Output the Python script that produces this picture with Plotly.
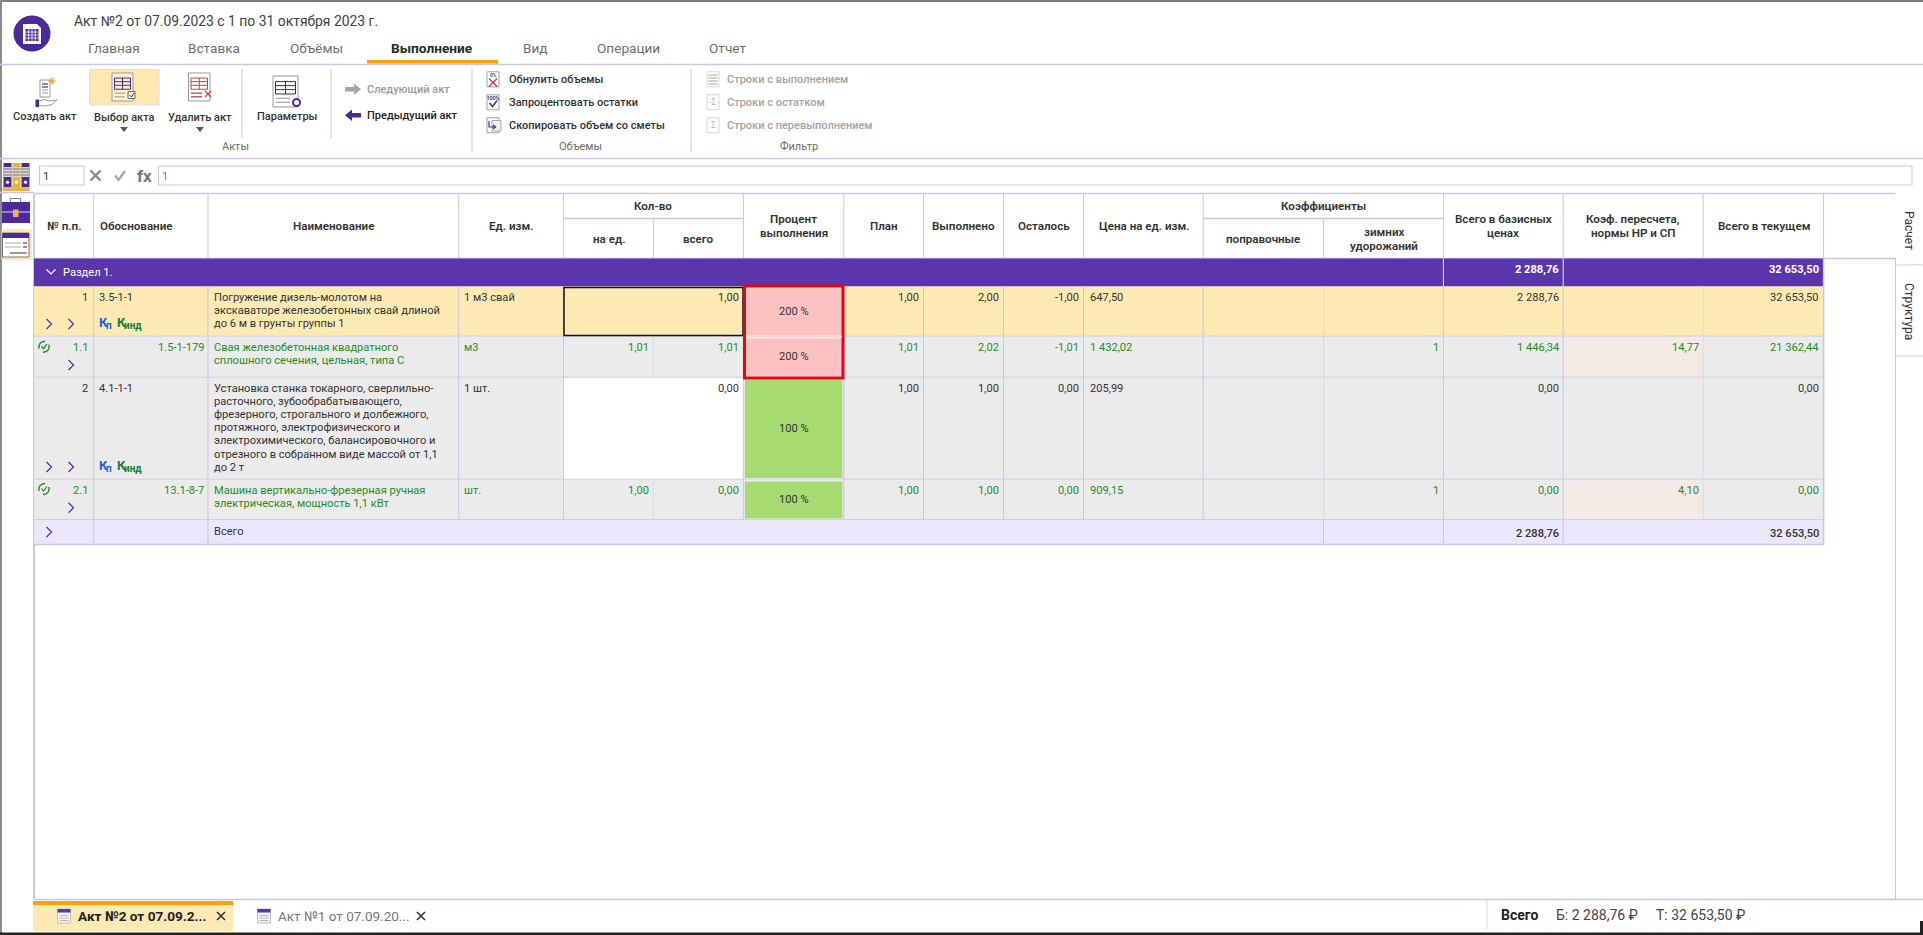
import plotly.graph_objects as go

# data
title = "Акт №2 от 07.09.2023 с 1 по 31 октября 2023 г."
menu_tabs = ["Главная", "Вставка", "Объёмы", "Выполнение", "Вид", "Операции", "Отчет"]
ribbon_big = ["Создать акт", "Выбор акта", "Удалить акт", "Параметры"]
ribbon_nav = ["Следующий акт", "Предыдущий акт"]
ribbon_vol = ["Обнулить объемы", "Запроцентовать остатки", "Скопировать объем со сметы"]
ribbon_flt = ["Строки с выполнением", "Строки с остатком", "Строки с перевыполнением"]
ribbon_groups = ["Акты", "Объемы", "Фильтр"]

row_no = ["1", "1.1", "2", "2.1"]
row_code = ["3.5-1-1", "1.5-1-179", "4.1-1-1", "13.1-8-7"]
row_name = [
    ["Погружение дизель-молотом на", "экскаваторе железобетонных свай длиной", "до 6 м в грунты группы 1"],
    ["Свая железобетонная квадратного", "сплошного сечения, цельная, типа С"],
    ["Установка станка токарного, сверлильно-", "расточного, зубообрабатывающего,",
     "фрезерного, строгального и долбежного,", "протяжного, электрофизического и",
     "электрохимического, балансировочного и", "отрезного в собранном виде массой от 1,1", "до 2 т"],
    ["Машина вертикально-фрезерная ручная", "электрическая, мощность 1,1 кВт"],
]
row_unit = ["1 м3 свай", "м3", "1 шт.", "шт."]
qty_per = ["", "1,01", "", "1,00"]
qty_all = ["1,00", "1,01", "0,00", "0,00"]
pct = ["200 %", "200 %", "100 %", "100 %"]
plan = ["1,00", "1,01", "1,00", "1,00"]
done = ["2,00", "2,02", "1,00", "1,00"]
rest = ["-1,00", "-1,01", "0,00", "0,00"]
price = ["647,50", "1 432,02", "205,99", "909,15"]
winter = ["", "1", "", "1"]
base_total = ["2 288,76", "1 446,34", "0,00", "0,00"]
recount = ["", "14,77", "", "4,10"]
cur_total = ["32 653,50", "21 362,44", "0,00", "0,00"]
section_name = "Раздел 1."
sum_base = "2 288,76"
sum_cur = "32 653,50"

# geometry of the grid, in screen pixels
col = [34, 93.7, 208, 458.7, 563.4, 653.4, 743.4, 843.8, 923.5, 1003.6, 1083.5, 1203.2, 1323.6, 1443.4, 1563.2, 1703.2, 1823.6]
side_x = 1895.5
head_top, head_mid, head_bot = 193.5, 218.5, 258.5
sec_bot = 286.5
row_bot = [336.5, 377.5, 479.5, 520]
tot_bot = 544.5
row_first = [297.3, 347.3, 388.3, 490.3]
pct_y = [311, 356, 428, 499.3]

PURPLE = "#5b35ab"
LINE = "#cdc4ea"
LINE2 = "#dcd7ee"
TXT = "#333333"
GREEN = "#1e8e1e"
GRAYT = "#a3a3a3"
FONT = "Roboto"
BODY = 11.1

shapes = []
notes = []


def rect(x0, y0, x1, y1, fill=None, line=None, w=1):
    shapes.append(dict(type="rect", xref="x", yref="y", x0=x0, y0=y0, x1=x1, y1=y1,
                       fillcolor=fill or "rgba(0,0,0,0)",
                       line=dict(color=line or "rgba(0,0,0,0)", width=w if line else 0)))


def seg(x0, y0, x1, y1, color=LINE, w=1):
    shapes.append(dict(type="line", xref="x", yref="y", x0=x0, y0=y0, x1=x1, y1=y1,
                       line=dict(color=color, width=w)))


def path(d, fill=None, line=None, w=1):
    shapes.append(dict(type="path", xref="x", yref="y", path=d,
                       fillcolor=fill or "rgba(0,0,0,0)",
                       line=dict(color=line or "rgba(0,0,0,0)", width=w if line else 0)))


def txt(x, y, s, size=BODY, color=TXT, anchor="left", weight=400, angle=0):
    if s == "":
        return
    notes.append(dict(x=x, y=y, xref="x", yref="y", text=s, showarrow=False, xanchor=anchor,
                      yanchor="middle", borderpad=0, borderwidth=0, textangle=angle,
                      font=dict(family=FONT, size=size, color=color, weight=weight)))


def chevron(x, y, color=PURPLE):
    path(f"M {x-2.5} {y-5} L {x+2.5} {y} L {x-2.5} {y+5}", line=color, w=1.3)


def cross(x, y, r, color, w=1.4):
    path(f"M {x-r} {y-r} L {x+r} {y+r} M {x+r} {y-r} L {x-r} {y+r}", line=color, w=w)


def refresh(x, y):
    # two green arcs around a tick
    path(f"M {x-5} {y+2} Q {x-6} {y-5} {x+1} {y-5.5} M {x+5} {y-2} Q {x+6} {y+5} {x-1} {y+5.5}", line=GREEN, w=1.4)
    path(f"M {x-2.5} {y-0.5} L {x-0.5} {y+2} L {x+3} {y-2.5}", line=GREEN, w=1.2)


def sheet(x0, y0, x1, y1, color, edge="#9a9a9a", fill="#ffffff"):
    # document icon with a table in it
    rect(x0, y0, x1, y1, fill=fill, line=edge)
    h = y1 - y0
    rect(x0 + 2.5, y0 + h * 0.18, x1 - 2.5, y0 + h * 0.58, line=color)
    seg(x0 + 2.5, y0 + h * 0.31, x1 - 2.5, y0 + h * 0.31, color)
    seg(x0 + 2.5, y0 + h * 0.44, x1 - 2.5, y0 + h * 0.44, color)
    seg((x0 + x1) / 2, y0 + h * 0.18, (x0 + x1) / 2, y0 + h * 0.58, color)
    seg(x0 + 2.5, y0 + h * 0.72, x1 - 8, y0 + h * 0.72, color if color == "#c8423a" else "#a9a9a9", 1.3)
    seg(x0 + 2.5, y0 + h * 0.85, x1 - 8, y0 + h * 0.85, color if color == "#c8423a" else "#a9a9a9", 1.3)


def tabicon(x0, y0):
    rect(x0, y0, x0 + 13, y0 + 14, fill="#f4f4f4", line="#bdbdbd")
    rect(x0, y0, x0 + 13, y0 + 3.5, fill=PURPLE)
    for v in [6.5, 9, 11.5]:
        seg(x0 + 2, y0 + v, x0 + 11, y0 + v, "#b5b5b5")


def mini(x0, y0, color="#a9a9a9"):
    rect(x0, y0, x0 + 12, y0 + 15, fill="#ffffff", line=color)


### window frame and top bars
rect(0, 0, 1923, 935, fill="#ffffff")
seg(0, 1, 1923, 1, "#7d7d7d", 2)
seg(1, 0, 1, 935, "#8a8a8a", 2)
seg(0, 934, 1923, 934, "#222222", 3)
seg(1921.5, 921, 1921.5, 935, "#222222", 3)

shapes.append(dict(type="circle", xref="x", yref="y", x0=14, y0=16, x1=50, y1=51,
                   fillcolor="#4a2a9c", line=dict(color="#3b2185", width=1)))
path("M 23 24 L 37 24 L 41 28 L 41 44 L 23 44 Z", fill="#ffffff")
rect(25.5, 29, 38.5, 41, fill="#4a2a9c")
for v in [28.7, 32, 35.2]:
    seg(v, 29, v, 41, "#ffffff", 0.8)
for v in [32, 35, 38]:
    seg(25.5, v, 38.5, v, "#ffffff", 0.8)

txt(73.5, 20.7, title, 13.9, "#404040")
tab_cx = [114, 213.7, 316, 432, 535, 628, 727]
for i, t in enumerate(menu_tabs):
    if t == "Выполнение":
        txt(tab_cx[i], 48.3, t, 13.7, "#2a2a2a", "center", 700)
    else:
        txt(tab_cx[i], 48.3, t, 13.6, "#6d6d6d", "center")
rect(367, 60, 498, 63.5, fill="#ff9f0a")
seg(0, 64.5, 1923, 64.5, LINE, 1.5)
seg(0, 158.5, 1923, 158.5, LINE, 1.5)
seg(0, 192.5, 34, 192.5, LINE, 1.5)

### ribbon
rect(89.5, 69.5, 159, 105, fill="#fde8b0", line="#e6d6ee")
big_cx = [45, 124, 200, 286.6]
big_y = [116.7, 117.3, 117.3, 116.7]
for i, t in enumerate(ribbon_big):
    txt(big_cx[i], big_y[i], t, 11, "#333333", "center", 500)
path("M 120 127 L 128 127 L 124 132 Z", fill="#555555")
path("M 196 127 L 204 127 L 200 132 Z", fill="#555555")

# create act icon: sheet over a hand
rect(40, 80, 50, 97, fill="#ffffff", line="#9a9a9a")
for v in [84, 87, 90, 93]:
    seg(42, v, 48, v, "#4a2a9c" if v < 90 else "#a9a9a9", 1.2)
path("M 52 77 L 52 85 M 48 81 L 56 81 M 49.5 78.5 L 54.5 83.5 M 54.5 78.5 L 49.5 83.5", line="#f59b23", w=1)
rect(35.5, 99.5, 39, 107, fill="#4a2a9c")
path("M 39 101 Q 45 98 49 101 L 57 100 Q 52 106 46 106 L 39 105.5", line="#9a9a9a", w=1)

sheet(112, 73, 133, 101, "#4a2a9c", fill="#fdf1cc")
rect(128, 91.5, 135, 98.5, fill="#fdf1cc", line="#6b6b6b")
path("M 129.5 95 L 131.5 97 L 134 93", line="#4a2a9c", w=1)
sheet(188.5, 73, 210, 101, "#c8423a")
cross(208, 94, 3, "#c8423a", 1.1)
sheet(273, 76, 298, 107, "#3b2185")
shapes.append(dict(type="circle", xref="x", yref="y", x0=293, y0=99, x1=300, y1=106,
                   fillcolor="#ffffff", line=dict(color="#4a2a9c", width=2)))

seg(242, 69, 242, 138, LINE)
seg(331, 69, 331, 138, LINE)
seg(472, 69, 472, 152, LINE)
seg(691, 69, 691, 152, LINE)

nav_y = [89.3, 115.3]
nav_c = ["#9a9a9a", "#222222"]
for i, t in enumerate(ribbon_nav):
    txt(367, nav_y[i], t, 11, nav_c[i], "left", 500)
path("M 345 87 L 354 87 L 354 83.5 L 361 89.3 L 354 95 L 354 91.5 L 345 91.5 Z", fill="#a8a8a8")
path("M 361 113 L 352 113 L 352 109.5 L 345 115.3 L 352 121 L 352 117.5 L 361 117.5 Z", fill="#4a2a9c")

list_y = [79.3, 102.3, 125.3]
for i, t in enumerate(ribbon_vol):
    txt(509, list_y[i], t, 11, "#333333", "left", 500)
    mini(487, list_y[i] - 7.5, "#9f9f9f")
    txt(714, list_y[i], "", 9)
# zero, percent and copy glyphs of the small icons
txt(493, 74.5, "0%", 5, "#555555", "center", 700)
cross(493, 82.5, 4, "#d9362c", 1.3)
txt(493, 97.5, "100%", 5, "#4a2a9c", "center", 700)
path("M 489.5 103 L 492.5 106.5 L 497 100.5", line="#4a2a9c", w=1.6)
rect(492, 120.5, 501, 131, fill="#eeeeee", line="#a9a9a9")
path("M 489 121 L 489 127 L 495 127 M 493 125 L 495.5 127 L 493 129", line="#4a2a9c", w=1.2)

for i, t in enumerate(ribbon_flt):
    txt(727, list_y[i], t, 11, GRAYT, "left", 500)
    mini(707, list_y[i] - 7.5, "#d5d5d5")
for v in [75, 78, 81, 84]:
    seg(708.5, v, 717.5, v, "#bdbdbd", 1.4)
txt(713, list_y[1], "-Σ", 9, "#bdbdbd", "center")
txt(713, list_y[2], "Σ", 9, "#bdbdbd", "center")
group_cx = [235, 580.5, 799]
for i, t in enumerate(ribbon_groups):
    txt(group_cx[i], 146.7, t, 11, "#6d6d6d", "center", 400)

### formula bar
rect(39.5, 166, 84, 185, line=LINE)
txt(43, 176, "1", 11, "#4a2a6c")
cross(95.5, 175.5, 5, "#8a8a8a", 2.4)
path("M 115 175.5 L 118.5 180 L 125 171", line="#a3a3a3", w=2.2)
txt(144, 176, "fx", 17, "#777777", "center", 700)
rect(158.5, 166, 1912, 185, line=LINE)
txt(162, 176, "1", 11, "#777777")

### left side icons
book_x = [3.5, 12.5, 21.5]
book_c = ["#4a2a9c", "#edb423", "#4a2a9c"]
for i in range(3):
    rect(book_x[i], 163, book_x[i] + 8, 187, fill=book_c[i])
    rect(book_x[i], 167, book_x[i] + 8, 177, fill="#d9d9d9")
    for v in [169, 172, 175]:
        seg(book_x[i], v, book_x[i] + 8, v, "#666666", 0.9)
    shapes.append(dict(type="circle", xref="x", yref="y", x0=book_x[i] + 2.3, y0=180.5,
                       x1=book_x[i] + 5.7, y1=184, fillcolor="#eeeeee", line=dict(width=0)))
rect(2.5, 187, 29.5, 191, fill="#e8b15c")
rect(2, 202, 30, 223, fill="#4a2a9c")
seg(2, 212, 30, 212, "#ffffff", 0.8)
rect(13, 209.5, 18.5, 217, fill="#e8b15c")
path("M 10.5 202 L 10.5 198.5 L 20.5 198.5 L 20.5 202", line="#8a8a8a", w=1.2)
rect(1.5, 229, 32, 260, fill="#fde8b0")
rect(2.5, 233, 29, 257, fill="#ffffff", line="#777777")
rect(2.5, 233, 29, 238, fill="#4a2a9c")
for v in [243, 247]:
    seg(5, v, 21, v, "#bbbbbb", 1.2)
    seg(23, v, 27, v, "#5b35ab", 1.2)
seg(10, 253, 27, 253, "#999999", 2)

### table header
seg(34, head_top, side_x, head_top, LINE, 1.5)
seg(col[0], head_top, col[0], 899, LINE, 2)
for c in col[1:]:
    seg(c, head_top, c, head_bot, LINE)

# merged cells of the header: cover the split lines
rect(col[4] + 0.7, head_top + 1, col[6] - 0.7, head_mid, fill="#ffffff")
rect(col[11] + 0.7, head_top + 1, col[13] - 0.7, head_mid, fill="#ffffff")
seg(col[4], head_mid, col[6], head_mid, LINE, 1.3)
seg(col[11], head_mid, col[13], head_mid, LINE, 1.3)
seg(34, head_bot, side_x, head_bot, LINE, 1.5)


def h(x, y, s):
    txt(x, y, s, 11.6, TXT, "center", 600)


h(64, 226, "№ п.п.")
txt(100, 226, "Обоснование", 11.6, TXT, "left", 600)
h(333.5, 226, "Наименование")
h(511, 226, "Ед. изм.")
h(653.4, 205.7, "Кол-во")
h(608.5, 239, "на ед.")
h(698.5, 239, "всего")
h(793.5, 219, "Процент")
h(793.5, 233.3, "выполнения")
h(884, 226, "План")
h(963.5, 226, "Выполнено")
h(1044, 226, "Осталось")
h(1144, 226, "Цена на ед. изм.")
h(1323.6, 205.7, "Коэффициенты")
h(1263.4, 239, "поправочные")
h(1383.8, 232.3, "зимних")
h(1383.8, 246, "удорожаний")
h(1503, 219, "Всего в базисных")
h(1503, 233.3, "ценах")
h(1633, 219, "Коэф. пересчета,")
h(1633, 233.3, "нормы НР и СП")
h(1764, 226, "Всего в текущем")

### section row
rect(col[0], head_bot, col[16], sec_bot, fill=PURPLE)
seg(col[13], head_bot, col[13], sec_bot, "#e8e4f5")
seg(col[14], head_bot, col[14], sec_bot, "#e8e4f5")
path("M 46.5 269.5 L 51 274 L 55.5 269.5", line="#ffffff", w=1.2)
txt(63, 272, section_name, BODY, "#ffffff")
txt(col[14] - 4.5, 269.5, sum_base, BODY, "#ffffff", "right", 700)
txt(col[16] - 4.5, 269.5, sum_cur, BODY, "#ffffff", "right", 700)

### rows
tops = [sec_bot] + row_bot[:-1]
for i in range(4):
    y0, y1 = tops[i], row_bot[i]
    own = row_no[i] in ("1", "2")
    is_green = not own
    c = GREEN if is_green else TXT
    rect(col[0], y0, col[16], y1, fill="#fdeab2" if i == 0 else "#ebebeb")
    if i == 2:
        rect(col[4], y0 + 0.5, col[6], y1, fill="#ffffff")
    if is_green:
        rect(col[14], y0 + 1, col[15], y1, fill="#f5e9e6")
    for j, e in enumerate(col[1:], 1):
        if own and e == col[5]:
            continue
        color = LINE2 if e in (col[12], col[15], col[16]) or (is_green and e == col[5]) else LINE
        seg(e, y0, e, y1, color)
    rect(col[6] + 1.5, y0 + 2, col[7] - 1.5, y1 - 1.5,
         fill="#fec1c1" if i < 2 else "#a6db72")
    seg(col[0], y1, col[16], y1, LINE, 1.5)

    y = row_first[i]
    txt(87.6, y, row_no[i], BODY, c, "right")
    if own:
        txt(99, y, row_code[i], BODY, c)
    else:
        txt(204, y, row_code[i], BODY, c, "right")
    for k, line in enumerate(row_name[i]):
        txt(214, y + k * 13.15, line, BODY, c)
    txt(464, y, row_unit[i], BODY, c)
    txt(col[5] - 4.5, y, qty_per[i], BODY, c, "right")
    txt(col[6] - 4.5, y, qty_all[i], BODY, c, "right")
    txt(793.5, pct_y[i], pct[i], BODY, TXT, "center")
    txt(col[8] - 4.5, y, plan[i], BODY, c, "right")
    txt(col[9] - 4.5, y, done[i], BODY, c, "right")
    txt(col[10] - 4.5, y, rest[i], BODY, c, "right")
    txt(col[10] + 6, y, price[i], BODY, c)
    txt(col[13] - 4.5, y, winter[i], BODY, c, "right")
    txt(col[14] - 4.5, y, base_total[i], BODY, c, "right")
    txt(col[15] - 4.5, y, recount[i], BODY, c, "right")
    txt(col[16] - 4.5, y, cur_total[i], BODY, c, "right")

refresh(44, 346.7)
refresh(44, 489)
for y in [322.3, 465.3]:
    txt(99, y, "К", 13, "#1a5fe0", "left", 700)
    txt(105.5, y + 3.2, "п", 10, "#1a5fe0", "left", 700)
    txt(116.5, y, "К", 13, "#15803d", "left", 700)
    txt(124, y + 3.2, "инд", 10, "#15803d", "left", 700)

### total row
rect(col[0], row_bot[3], col[16], tot_bot, fill="#ebe7fb")
for e in [col[1], col[2], col[12], col[13], col[14]]:
    seg(e, row_bot[3], e, tot_bot, LINE)
seg(col[0], tot_bot, col[16], tot_bot, LINE, 1.5)
seg(col[16], head_bot, col[16], tot_bot, LINE, 1.5)
txt(214, 531.3, "Всего", BODY, TXT)
txt(col[14] - 4.5, 533, sum_base, BODY, TXT, "right", 500)
txt(col[16] - 4.5, 533, sum_cur, BODY, TXT, "right", 500)

# row markers
for x, y in [(49, 324), (71, 324), (71, 365), (49, 467), (71, 467), (71, 507.7), (49, 532)]:
    chevron(x, y)

# selection marks
rect(564, 287.5, 743, 335.5, line="#111111", w=1.5)
rect(744.5, 286, 843, 378, line="#e30613", w=3)
seg(746, 336.5, 842, 336.5, "#f7d6d6", 1.5)

### right side panel
seg(side_x, 258, side_x, 899, LINE)
seg(side_x, 265, 1923, 265, LINE)
seg(side_x, 356, 1923, 356, LINE)
txt(1909, 230, "Расчет", 12, TXT, "center", 400, 90)
txt(1909, 311, "Структура", 12, TXT, "center", 400, 90)

### bottom tabs and totals
seg(34, 899.5, 1923, 899.5, LINE, 1.5)
rect(33, 904, 233, 931, fill="#fde9b4")
rect(33, 901, 233, 905, fill="#ff9f0a")
tabicon(57.5, 909)
txt(77.5, 915.5, "Акт №2 от 07.09.2...", 13.6, "#222222", "left", 700)
cross(221, 916, 4, "#222222", 1.4)
tabicon(257.5, 909)
txt(277.5, 915.5, "Акт №1 от 07.09.20...", 13.5, "#777777")
cross(421, 916, 4, "#222222", 1.4)
seg(1487, 900, 1487, 929, LINE2)
txt(1500.7, 914.5, "Всего", 14, "#222222", "left", 700)
txt(1556, 915, "Б: 2 288,76 ₽", 14, "#444444")
txt(1656, 915, "Т: 32 653,50 ₽", 14, "#444444")

fig = go.Figure()
fig.update_layout(
    width=1923, height=935, margin=dict(l=0, r=0, t=0, b=0),
    paper_bgcolor="#ffffff", plot_bgcolor="#ffffff", showlegend=False,
    xaxis=dict(range=[0, 1923], visible=False, fixedrange=True),
    yaxis=dict(range=[935, 0], visible=False, fixedrange=True),
    shapes=shapes, annotations=notes, font=dict(family=FONT),
)
fig.write_html("out.html", config=dict(displayModeBar=False),
               post_script="document.body.style.margin='0';document.body.style.overflow='hidden';")
